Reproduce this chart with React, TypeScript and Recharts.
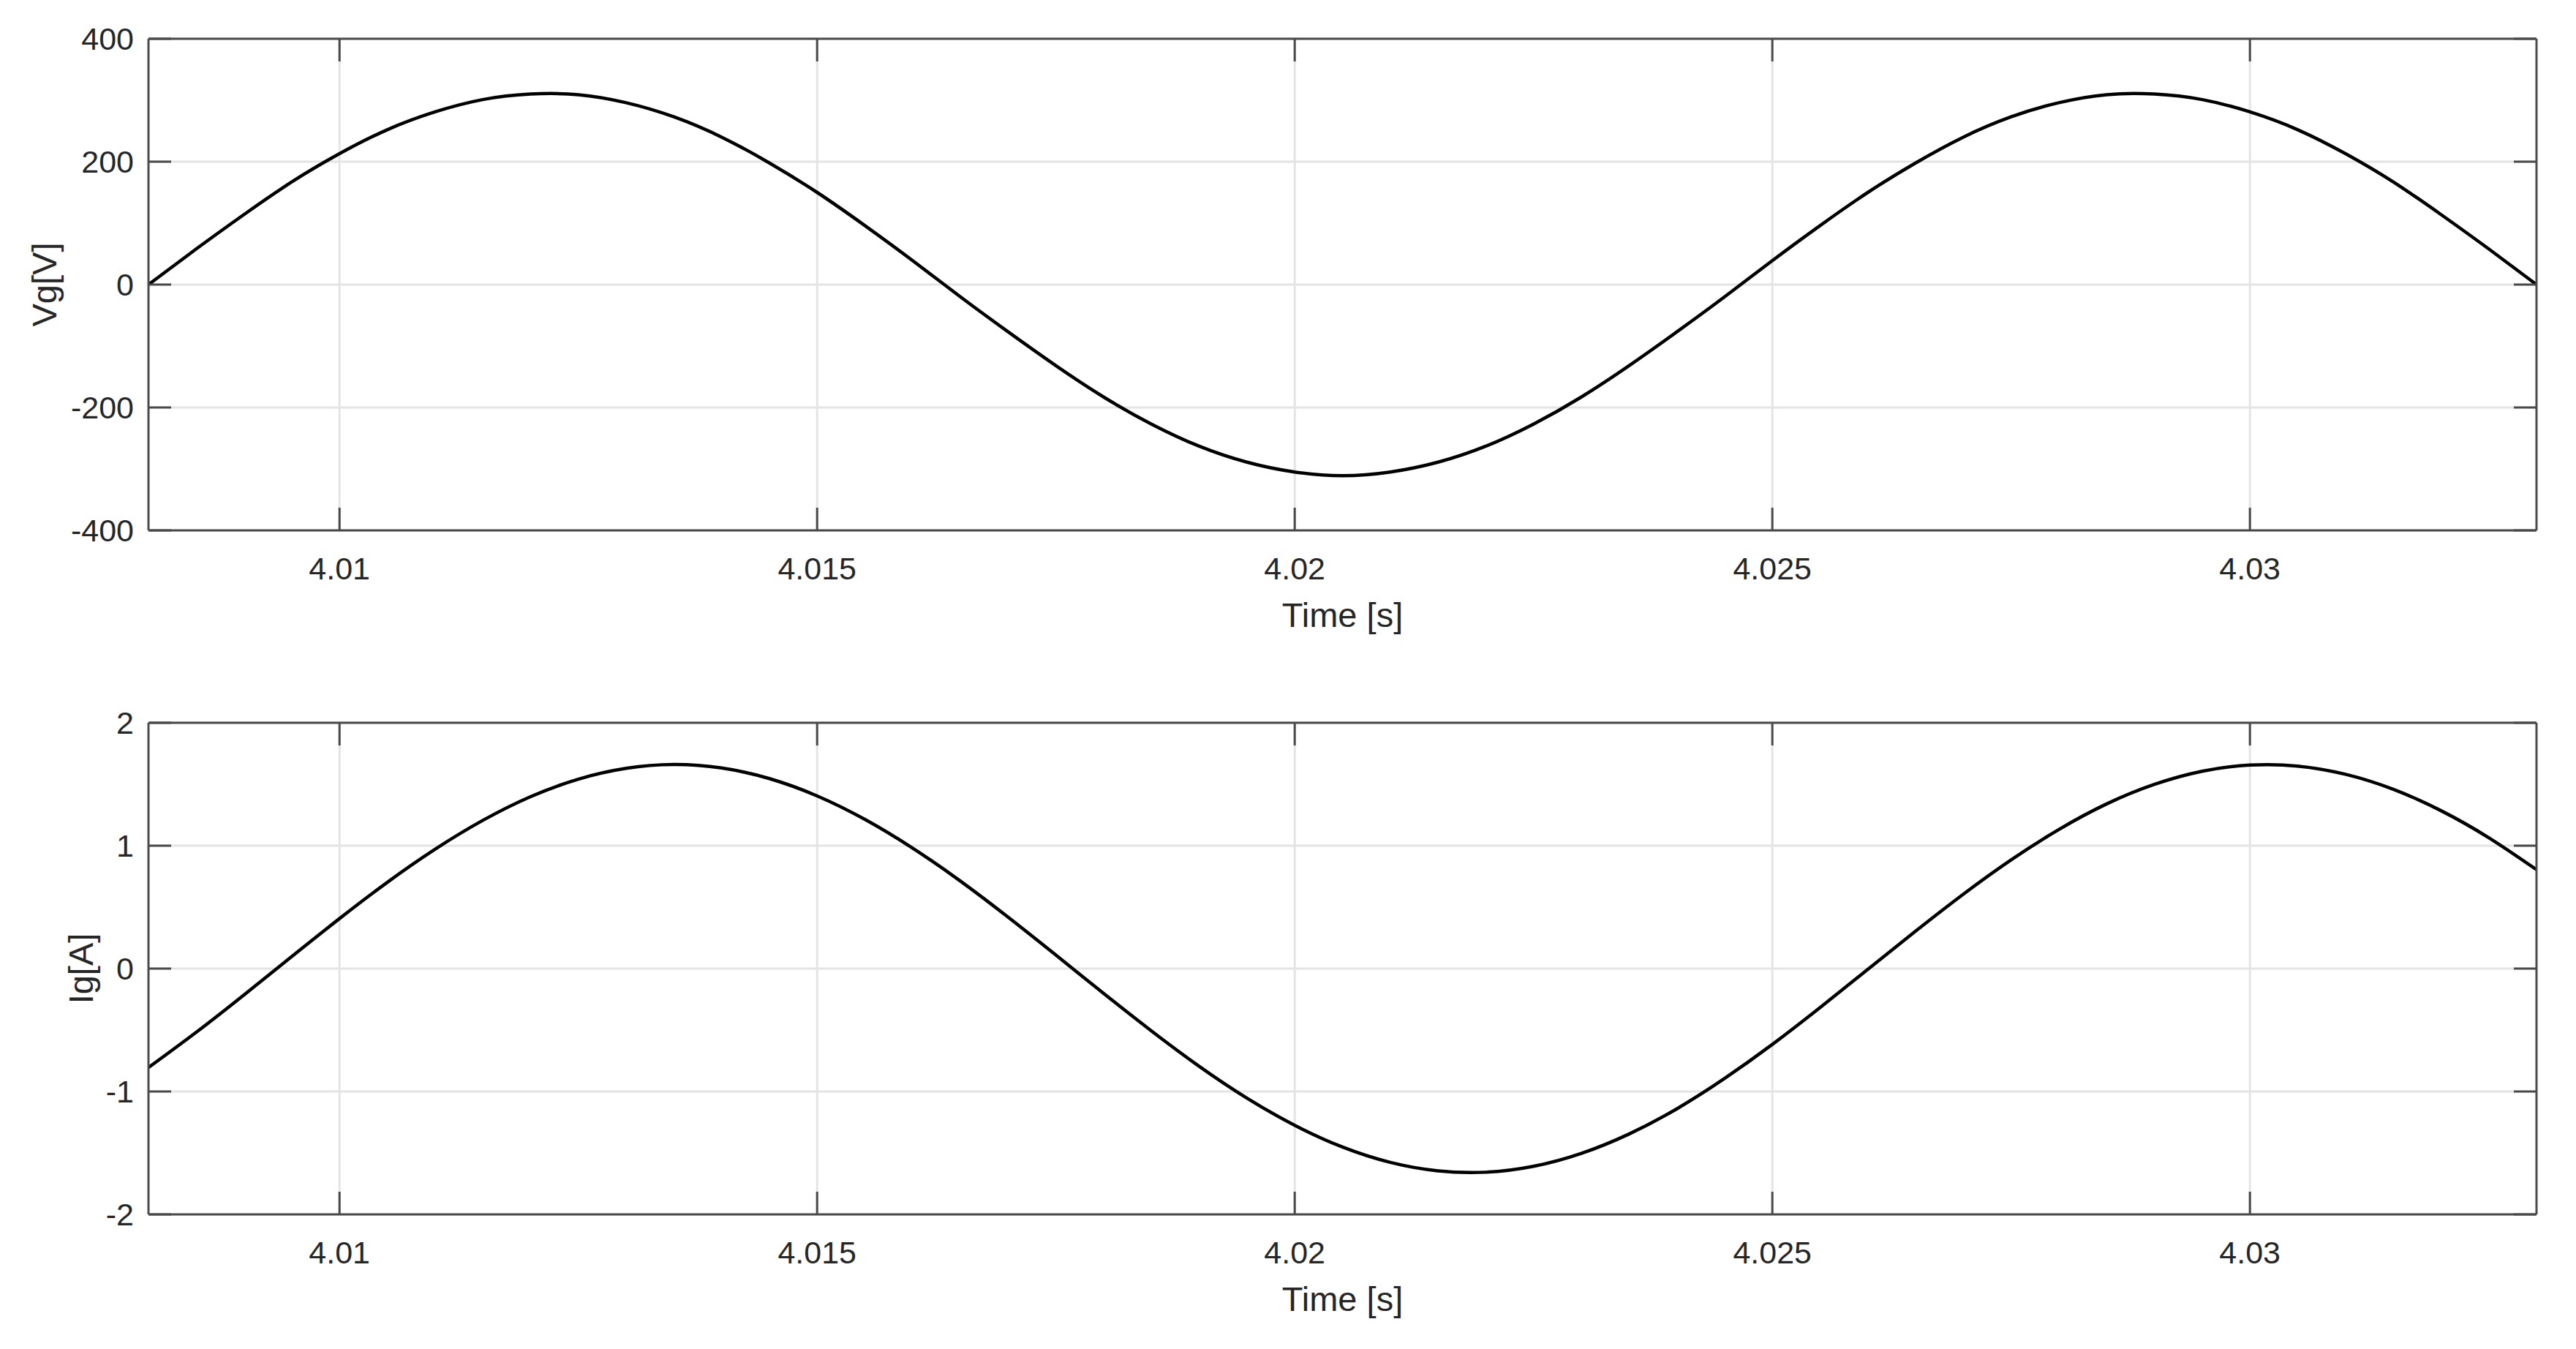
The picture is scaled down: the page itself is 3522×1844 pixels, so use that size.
import React from 'react';
import { LineChart, Line, XAxis, YAxis, CartesianGrid } from 'recharts';

const timeValues = [
  4.008, 4.0085, 4.009, 4.0095, 4.01, 4.0105, 4.011, 4.0115, 4.012, 4.0125,
  4.013, 4.0135, 4.014, 4.0145, 4.015, 4.0155, 4.016, 4.0165, 4.017, 4.0175,
  4.018, 4.0185, 4.019, 4.0195, 4.02, 4.0205, 4.021, 4.0215, 4.022, 4.0225,
  4.023, 4.0235, 4.024, 4.0245, 4.025, 4.0255, 4.026, 4.0265, 4.027, 4.0275,
  4.028, 4.0285, 4.029, 4.0295, 4.03, 4.0305, 4.031, 4.0315, 4.032, 4.0325,
  4.033,
];

const vgValues = [
  0, 58, 114, 167, 213, 252, 281, 301, 310, 309,
  296, 273, 240, 198, 150, 96, 39, -20, -77, -132,
  -183, -227, -263, -289, -305, -311, -305, -289, -263, -227,
  -183, -132, -77, -20, 39, 96, 150, 198, 240, 273,
  296, 309, 310, 301, 281, 252, 213, 167, 114, 58,
  0,
];

const igValues = [
  -0.805, -0.518, -0.214, 0.098, 0.407, 0.702, 0.971, 1.206, 1.399, 1.541,
  1.629, 1.66, 1.632, 1.546, 1.405, 1.214, 0.98, 0.712, 0.418, 0.11,
  -0.202, -0.507, -0.795, -1.054, -1.275, -1.452, -1.577, -1.646, -1.657, -1.609,
  -1.504, -1.346, -1.141, -0.894, -0.617, -0.317, -0.006, 0.305, 0.606, 0.885,
  1.132, 1.34, 1.499, 1.606, 1.656, 1.648, 1.581, 1.459, 1.285, 1.065,
  0.805,
];

const timeTicks = [4.01, 4.015, 4.02, 4.025, 4.03];
const timeDomain = [4.008, 4.033];
const vgTicks = [-400, -200, 0, 200, 400];
const igTicks = [-2, -1, 0, 1, 2];

const xLabel = 'Time [s]';
const vgLabel = 'Vg[V]';
const igLabel = 'Ig[A]';

const vgData = timeValues.map((t, i) => ({ t, v: vgValues[i] }));
const igData = timeValues.map((t, i) => ({ t, v: igValues[i] }));

const FONT = '"Liberation Sans", Arial, Helvetica, sans-serif';
const TEXT = '#262626';
const AXIS = '#4a4a4a';
const GRID = '#e4e4e4';

const CHART_W = 3522;
const CHART_H = 909;

const EmptyTick = () => <g />;

type PanelProps = {
  data: { t: number; v: number }[];
  yTicks: number[];
  yLabel: string;
  yLabelX: number;
  top: number;
};

function Panel({ data, yTicks, yLabel, yLabelX, top }: PanelProps) {
  const yDomain = [yTicks[0], yTicks[yTicks.length - 1]];
  const plotTop = 53;
  const plotBottom = 725;
  const plotMidY = (plotTop + plotBottom) / 2;
  const plotMidX = (203 + 3468) / 2;
  return (
    <div style={{ position: 'absolute', left: 0, top, width: CHART_W, height: CHART_H }}>
      <LineChart
        width={CHART_W}
        height={CHART_H}
        data={data}
        margin={{ top: 43, right: 44, bottom: CHART_H - plotBottom - 100, left: 103 }}
        style={{ fontFamily: FONT }}
      >
        <CartesianGrid stroke={GRID} strokeWidth={3} horizontalValues={yTicks} verticalValues={timeTicks} />
        <XAxis
          dataKey="t"
          type="number"
          domain={timeDomain}
          ticks={timeTicks}
          allowDataOverflow
          interval={0}
          height={100}
          tickSize={-31}
          tickMargin={67}
          stroke={AXIS}
          axisLine={{ stroke: AXIS, strokeWidth: 3 }}
          tickLine={{ stroke: AXIS, strokeWidth: 3 }}
          tick={{ fill: TEXT, fontSize: 43, fontFamily: FONT }}
          label={{
            value: xLabel,
            content: () => (
              <text x={plotMidX} y={plotBottom + 132} textAnchor="middle" fill={TEXT} fontSize={47} fontFamily={FONT}>
                {xLabel}
              </text>
            ),
          }}
        />
        <XAxis
          xAxisId="top"
          orientation="top"
          dataKey="t"
          type="number"
          domain={timeDomain}
          ticks={timeTicks}
          allowDataOverflow
          interval={0}
          height={10}
          tickSize={-31}
          axisLine={{ stroke: AXIS, strokeWidth: 3 }}
          tickLine={{ stroke: AXIS, strokeWidth: 3 }}
          tick={EmptyTick}
        />
        <YAxis
          type="number"
          domain={yDomain}
          ticks={yTicks}
          allowDataOverflow
          interval={0}
          width={100}
          tickSize={-31}
          tickMargin={51}
          axisLine={{ stroke: AXIS, strokeWidth: 3 }}
          tickLine={{ stroke: AXIS, strokeWidth: 3 }}
          tick={{ fill: TEXT, fontSize: 43, fontFamily: FONT }}
          label={{
            value: yLabel,
            content: () => (
              <text
                x={yLabelX}
                y={plotMidY}
                textAnchor="middle"
                dominantBaseline="central"
                transform={`rotate(-90, ${yLabelX}, ${plotMidY})`}
                fill={TEXT}
                fontSize={47}
                fontFamily={FONT}
              >
                {yLabel}
              </text>
            ),
          }}
        />
        <YAxis
          yAxisId="right"
          orientation="right"
          type="number"
          domain={yDomain}
          ticks={yTicks}
          allowDataOverflow
          interval={0}
          width={10}
          tickSize={-31}
          axisLine={{ stroke: AXIS, strokeWidth: 3 }}
          tickLine={{ stroke: AXIS, strokeWidth: 3 }}
          tick={EmptyTick}
        />
        <Line
          dataKey="v"
          type="natural"
          stroke="#000000"
          strokeWidth={4.5}
          dot={false}
          activeDot={false}
          isAnimationActive={false}
        />
      </LineChart>
    </div>
  );
}

export default function App() {
  return (
    <div style={{ position: 'absolute', left: 0, top: 0, width: CHART_W, height: 1844, background: '#ffffff', overflow: 'hidden' }}>
      <Panel data={vgData} yTicks={vgTicks} yLabel={vgLabel} yLabelX={60} top={0} />
      <Panel data={igData} yTicks={igTicks} yLabel={igLabel} yLabelX={110} top={935} />
    </div>
  );
}
